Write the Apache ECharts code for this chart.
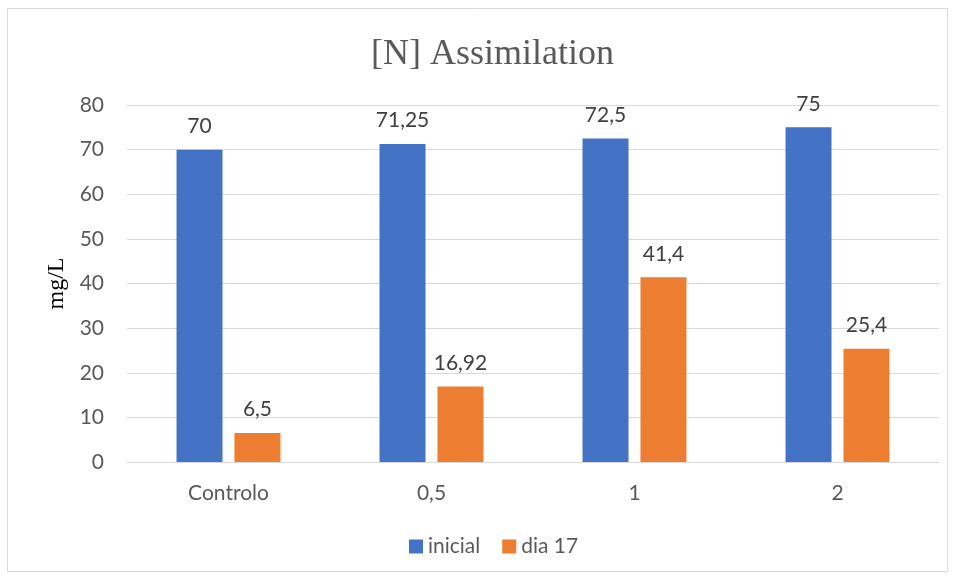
<!DOCTYPE html>
<html><head><meta charset="utf-8">
<script src="https://cdn.jsdelivr.net/npm/echarts@6/dist/echarts.min.js"></script>
<style>html,body{margin:0;padding:0;background:#fff}#c{width:955px;height:578px}</style>
</head><body><div id="c"></div>
<script>
const categories = ['Controlo', '0,5', '1', '2'];
const inicial = [70, 71.25, 72.5, 75];
const dia17 = [6.5, 16.92, 41.4, 25.4];
const seriesNames = ['inicial', 'dia 17'];
const fmt = v => String(v.value).replace('.', ',');
const chart = echarts.init(document.getElementById('c'));
const lbl = {show: true, position: 'top', distance: 13, formatter: fmt, color: '#404040', fontSize: 21, fontFamily: 'Lato'};
chart.setOption({
  animation: false,
  graphic: [{type: 'rect', shape: {x: 7.5, y: 8.5, width: 940, height: 563}, style: {fill: 'none', stroke: '#d9d9d9', lineWidth: 1}}],
  title: {text: '[N] Assimilation', left: 366, top: 32, textStyle: {fontFamily: 'Liberation Serif', fontWeight: 'normal', fontSize: 36, color: '#595959'}},
  legend: {data: seriesNames, bottom: 16, left: 404, itemWidth: 14, itemHeight: 14, itemGap: 22, icon: 'rect', textStyle: {fontFamily: 'Lato', fontSize: 21, color: '#595959'}},
  grid: {left: 127, right: 16, top: 105, bottom: 116},
  xAxis: {type: 'category', data: categories, axisTick: {show: false}, axisLine: {lineStyle: {color: '#d9d9d9'}}, axisLabel: {fontFamily: 'Lato', fontSize: 21, color: '#595959', margin: 21}},
  yAxis: {type: 'value', min: 0, max: 80, interval: 10, name: 'mg/L', nameLocation: 'middle', nameGap: 54, nameRotate: 90,
    nameTextStyle: {fontFamily: 'Liberation Serif', fontSize: 24, color: '#000'},
    axisLabel: {fontFamily: 'Lato', fontSize: 21, color: '#595959', margin: 23},
    splitLine: {lineStyle: {color: '#d9d9d9', width: 1}}},
  series: [
    {name: seriesNames[0], type: 'bar', data: inicial, itemStyle: {color: '#4472c4'}, barWidth: 46, barGap: '26%', label: lbl},
    {name: seriesNames[1], type: 'bar', data: dia17, itemStyle: {color: '#ed7d31'}, barWidth: 46, label: lbl}
  ]
});
</script></body></html>
